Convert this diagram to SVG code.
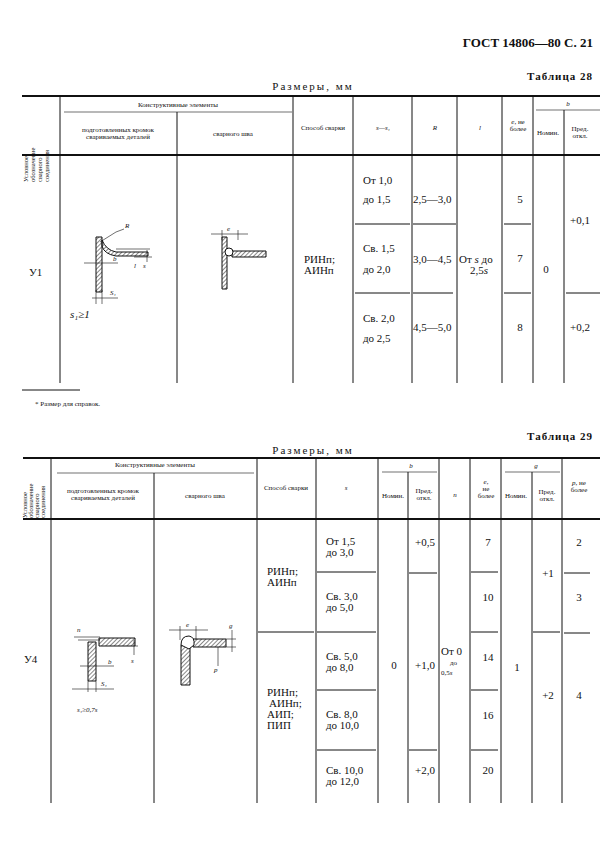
<svg xmlns="http://www.w3.org/2000/svg" width="606" height="846" viewBox="0 0 606 846">
<defs>
<pattern id="h" width="3" height="3" patternUnits="userSpaceOnUse" patternTransform="rotate(45)"><line x1="0" y1="0" x2="0" y2="3" stroke="#000" stroke-width="1"/></pattern>
</defs>
<style>
text{font-family:"Liberation Serif",serif;fill:#111}
.t{font-size:11px}
.s{font-size:7px}
.h{font-size:6.5px}
.b{font-size:13px;font-weight:bold}
line,path.l{stroke:#111;stroke-width:1;fill:none}
.thk{stroke-width:1.8}
.th{stroke-width:0.6}
</style>
<rect width="606" height="846" fill="#fff"/>
<text x="593" y="47" class="b" text-anchor="end">ГОСТ 14806—80 С. 21</text>
<text x="593" y="80" class="t" text-anchor="end" font-weight="bold" letter-spacing="1">Таблица 28</text>
<text x="313" y="90" class="t" text-anchor="middle" letter-spacing="2">Размеры, мм</text>
<g id="connectors">
<line class="thk" x1="22" y1="96" x2="600" y2="96"/>
<line class="th" x1="64" y1="112" x2="292" y2="112"/>
<line class="th" x1="536" y1="110" x2="600" y2="110"/>
<line class="thk" x1="22" y1="155" x2="600" y2="155"/>
<line x1="60" y1="96" x2="60" y2="383"/>
<line x1="177" y1="112" x2="177" y2="383"/>
<line x1="293" y1="96" x2="293" y2="383"/>
<line x1="353" y1="96" x2="353" y2="383"/>
<line x1="412" y1="96" x2="412" y2="383"/>
<line x1="457" y1="96" x2="457" y2="383"/>
<line x1="502" y1="96" x2="502" y2="383"/>
<line x1="533" y1="96" x2="533" y2="383"/>
<line x1="564" y1="110" x2="564" y2="383"/>
<line x1="355" y1="224" x2="410" y2="224"/><line x1="413" y1="224" x2="456" y2="224"/><line x1="504" y1="224" x2="531" y2="224"/>
<line x1="355" y1="293" x2="410" y2="293"/><line x1="413" y1="293" x2="453" y2="293"/><line x1="504" y1="293" x2="531" y2="293"/><line x1="566" y1="293" x2="600" y2="293"/>
<line x1="22" y1="390" x2="80" y2="390"/>
<line class="thk" x1="23" y1="458" x2="600" y2="458"/>
<line class="th" x1="57" y1="473" x2="254" y2="473"/>
<line class="th" x1="382" y1="472" x2="437" y2="472"/>
<line class="th" x1="505" y1="472" x2="560" y2="472"/>
<line class="thk" x1="23" y1="519" x2="600" y2="519"/>
<line x1="51" y1="458" x2="51" y2="803"/>
<line x1="154" y1="473" x2="154" y2="803"/>
<line x1="257" y1="458" x2="257" y2="803"/>
<line x1="316" y1="458" x2="316" y2="803"/>
<line x1="378" y1="458" x2="378" y2="803"/>
<line x1="408" y1="472" x2="408" y2="803"/>
<line x1="439" y1="458" x2="439" y2="803"/>
<line x1="470" y1="458" x2="470" y2="803"/>
<line x1="501" y1="458" x2="501" y2="803"/>
<line x1="532" y1="472" x2="532" y2="803"/>
<line x1="562" y1="458" x2="562" y2="803"/>
<line x1="317" y1="572" x2="376" y2="572"/><line x1="317" y1="632" x2="376" y2="632"/><line x1="317" y1="690" x2="376" y2="690"/><line x1="317" y1="750" x2="376" y2="750"/>
<line x1="409" y1="573" x2="437" y2="573"/><line x1="409" y1="750" x2="437" y2="750"/>
<line x1="471" y1="572" x2="498" y2="572"/><line x1="471" y1="632" x2="498" y2="632"/><line x1="471" y1="690" x2="498" y2="690"/><line x1="471" y1="750" x2="498" y2="750"/>
<line x1="533" y1="632" x2="560" y2="632"/>
<line x1="564" y1="573" x2="590" y2="573"/><line x1="564" y1="633" x2="590" y2="633"/>
<line x1="258" y1="632" x2="314" y2="632"/>
</g>
<g id="header1">
<text transform="translate(28,182) rotate(-90)" class="h">Условное</text>
<text transform="translate(35,182) rotate(-90)" class="h">обозначение</text>
<text transform="translate(42,182) rotate(-90)" class="h">сварного</text>
<text transform="translate(49,182) rotate(-90)" class="h">соединения</text>
<text x="178" y="107" class="s" text-anchor="middle">Конструктивные элементы</text>
<text x="118" y="132" class="s" text-anchor="middle">подготовленных кромок</text>
<text x="118" y="139" class="s" text-anchor="middle">свариваемых деталей</text>
<text x="233" y="136" class="s" text-anchor="middle">сварного шва</text>
<text x="323" y="130" class="s" text-anchor="middle">Способ сварки</text>
<text x="383" y="130" class="s" text-anchor="middle" font-style="italic">s—s₁</text>
<text x="435" y="130" class="s" text-anchor="middle" font-style="italic">R</text>
<text x="480" y="130" class="s" text-anchor="middle" font-style="italic">l</text>
<text x="518" y="124" class="s" text-anchor="middle"><tspan font-style="italic">e</tspan>, не</text>
<text x="518" y="131" class="s" text-anchor="middle">более</text>
<text x="548" y="135" class="s" text-anchor="middle">Номин.</text>
<text x="580" y="131" class="s" text-anchor="middle">Пред.</text>
<text x="580" y="138" class="s" text-anchor="middle">откл.</text>
<text x="568" y="106" class="s" text-anchor="middle" font-style="italic">b</text>
</g>
<g id="row1">
<text x="29" y="276" class="t">У1</text>
<text x="70" y="318" class="t" font-style="italic">s₁≥1</text>
<text x="363" y="184" class="t">От 1,0</text><text x="363" y="203" class="t">до 1,5</text>
<text x="413" y="203" class="t">2,5—3,0</text>
<text x="520" y="203" class="t" text-anchor="middle">5</text>
<text x="580" y="224" class="t" text-anchor="middle">+0,1</text>
<text x="363" y="252" class="t">Св. 1,5</text><text x="363" y="273" class="t">до 2,0</text>
<text x="413" y="263" class="t">3,0—4,5</text>
<text x="459" y="263" class="t">От <tspan font-style="italic">s</tspan> до</text>
<text x="470" y="274" class="t">2,5<tspan font-style="italic">s</tspan></text>
<text x="520" y="262" class="t" text-anchor="middle">7</text>
<text x="546" y="273" class="t" text-anchor="middle">0</text>
<text x="363" y="322" class="t">Св. 2,0</text><text x="363" y="342" class="t">до 2,5</text>
<text x="413" y="331" class="t">4,5—5,0</text>
<text x="520" y="331" class="t" text-anchor="middle">8</text>
<text x="580" y="331" class="t" text-anchor="middle">+0,2</text>
<text x="304" y="263" class="t">РИНп;</text><text x="304" y="274" class="t">АИНп</text>
</g>
<g id="drawing1">
<path d="M96,237 h6 v55 h-6 z" fill="url(#h)" stroke="#111"/>
<path d="M102,240 q4,10 14,12 h32 v4 h-32 q-12,-2 -14,-10 z" fill="url(#h)" stroke="#111"/>
<line class="th" x1="100" y1="242" x2="116" y2="232"/><line class="th" x1="116" y1="232" x2="124" y2="229"/>
<text x="125" y="228" class="s" font-style="italic">R</text>
<line class="th" x1="116" y1="249" x2="150" y2="249"/><line class="th" x1="134" y1="257" x2="152" y2="257"/>
<line class="th" x1="147" y1="250" x2="147" y2="262"/>
<text x="134" y="268" class="s" font-style="italic">l</text>
<text x="143" y="268" class="s" font-style="italic">s</text>
<line class="th" x1="84" y1="263" x2="118" y2="263"/><text x="113" y="261" class="s" font-style="italic">b</text>
<line class="th" x1="92" y1="298" x2="118" y2="298"/><line class="th" x1="96" y1="290" x2="96" y2="304"/><line class="th" x1="102" y1="290" x2="102" y2="304"/>
<text x="110" y="295" class="s" font-style="italic">S₁</text>
<path d="M222,237 h5 v52 h-5 z" fill="url(#h)" stroke="#111"/>
<path d="M232,251 h34 v6 h-34 z" fill="url(#h)" stroke="#111"/>
<circle cx="229" cy="252" r="4" fill="#fff" stroke="#111"/>
<line class="th" x1="211" y1="234" x2="248" y2="234"/><line class="th" x1="222" y1="230" x2="222" y2="240"/><line class="th" x1="238" y1="230" x2="238" y2="240"/>
<text x="227" y="231" class="s" font-style="italic">e</text>
</g>
<text x="35" y="406" class="s" font-size="8">*  Размер для справок.</text>
<text x="593" y="440" class="t" text-anchor="end" font-weight="bold" letter-spacing="1">Таблица 29</text>
<text x="313" y="454" class="t" text-anchor="middle" letter-spacing="2">Размеры, мм</text>
<g id="header2">
<text transform="translate(27,518) rotate(-90)" class="h">Условное</text>
<text transform="translate(33,518) rotate(-90)" class="h">обозначение</text>
<text transform="translate(39,518) rotate(-90)" class="h">сварного</text>
<text transform="translate(45,518) rotate(-90)" class="h">соединения</text>
<text x="155" y="467" class="s" text-anchor="middle">Конструктивные элементы</text>
<text x="103" y="493" class="s" text-anchor="middle">подготовленных кромок</text>
<text x="103" y="500" class="s" text-anchor="middle">свариваемых деталей</text>
<text x="205" y="498" class="s" text-anchor="middle">сварного шва</text>
<text x="286" y="490" class="s" text-anchor="middle">Способ сварки</text>
<text x="346" y="490" class="s" text-anchor="middle" font-style="italic">s</text>
<text x="411" y="468" class="s" text-anchor="middle" font-style="italic">b</text>
<text x="393" y="498" class="s" text-anchor="middle">Номин.</text>
<text x="424" y="493" class="s" text-anchor="middle">Пред.</text><text x="424" y="500" class="s" text-anchor="middle">откл.</text>
<text x="455" y="497" class="s" text-anchor="middle" font-style="italic">n</text>
<text x="486" y="484" class="s" text-anchor="middle" font-style="italic">e,</text>
<text x="486" y="491" class="s" text-anchor="middle">не</text>
<text x="486" y="498" class="s" text-anchor="middle">более</text>
<text x="536" y="468" class="s" text-anchor="middle" font-style="italic">g</text>
<text x="516" y="498" class="s" text-anchor="middle">Номин.</text>
<text x="547" y="494" class="s" text-anchor="middle">Пред.</text><text x="547" y="501" class="s" text-anchor="middle">откл.</text>
<text x="579" y="485" class="s" text-anchor="middle"><tspan font-style="italic">p</tspan>, не</text>
<text x="579" y="492" class="s" text-anchor="middle">более</text>
</g>
<g id="row2">
<text x="24" y="663" class="t">У4</text>
<text x="77" y="712" class="s" font-size="9" font-style="italic">s₁≥0,7s</text>
<text x="326" y="545" class="t">От 1,5</text><text x="326" y="556" class="t">до 3,0</text>
<text x="415" y="546" class="t">+0,5</text>
<text x="488" y="546" class="t" text-anchor="middle">7</text>
<text x="579" y="546" class="t" text-anchor="middle">2</text>
<text x="267" y="575" class="t">РИНп;</text><text x="267" y="586" class="t">АИНп</text>
<text x="548" y="577" class="t" text-anchor="middle">+1</text>
<text x="326" y="600" class="t">Св. 3,0</text><text x="326" y="611" class="t">до 5,0</text>
<text x="488" y="601" class="t" text-anchor="middle">10</text>
<text x="579" y="601" class="t" text-anchor="middle">3</text>
<text x="326" y="660" class="t">Св. 5,0</text><text x="326" y="671" class="t">до 8,0</text>
<text x="394" y="669" class="t" text-anchor="middle">0</text>
<text x="415" y="669" class="t">+1,0</text>
<text x="441" y="655" class="t">От 0</text>
<text x="450" y="665" class="s" font-size="9">до</text>
<text x="441" y="675" class="s" font-size="9">0,5<tspan font-style="italic">s</tspan></text>
<text x="488" y="661" class="t" text-anchor="middle">14</text>
<text x="517" y="671" class="t" text-anchor="middle">1</text>
<text x="267" y="696" class="t">РИНп;</text><text x="269" y="707" class="t">АИНп;</text>
<text x="267" y="718" class="t">АИП;</text><text x="267" y="729" class="t">ПИП</text>
<text x="548" y="699" class="t" text-anchor="middle">+2</text>
<text x="579" y="699" class="t" text-anchor="middle">4</text>
<text x="326" y="718" class="t">Св. 8,0</text><text x="326" y="729" class="t">до 10,0</text>
<text x="488" y="719" class="t" text-anchor="middle">16</text>
<text x="326" y="774" class="t">Св. 10,0</text><text x="326" y="785" class="t">до 12,0</text>
<text x="415" y="774" class="t">+2,0</text>
<text x="488" y="774" class="t" text-anchor="middle">20</text>
</g>
<g id="drawing2">
<path d="M88,642 h8 v39 h-8 z" fill="url(#h)" stroke="#111"/>
<path d="M99,638 h36 v8 h-36 z" fill="url(#h)" stroke="#111"/>
<line class="th" x1="74" y1="637" x2="100" y2="637"/><line class="th" x1="78" y1="640" x2="100" y2="640"/>
<text x="77" y="632" class="s" font-style="italic">n</text>
<line class="th" x1="135" y1="646" x2="138" y2="646"/><line class="th" x1="134" y1="640" x2="134" y2="655"/>
<text x="131" y="663" class="s" font-style="italic">s</text>
<line class="th" x1="80" y1="666" x2="114" y2="666"/><text x="108" y="664" class="s" font-style="italic">b</text>
<line class="th" x1="72" y1="689" x2="114" y2="689"/><line class="th" x1="88" y1="681" x2="88" y2="692"/><line class="th" x1="96" y1="681" x2="96" y2="692"/>
<text x="101" y="686" class="s" font-style="italic">S₁</text>
<path d="M181,645 h9 v40 h-9 z" fill="url(#h)" stroke="#111"/>
<path d="M193,639 h33 v8 h-33 z" fill="url(#h)" stroke="#111"/>
<path d="M181,645 q0,-9 8,-9 q6,1 5,9 l-5,4 z" fill="#fff" stroke="#111"/>
<line class="th" x1="169" y1="630" x2="208" y2="630"/><line class="th" x1="180" y1="626" x2="180" y2="640"/><line class="th" x1="196" y1="626" x2="196" y2="640"/>
<text x="186" y="627" class="s" font-style="italic">e</text>
<line class="th" x1="226" y1="639" x2="236" y2="639"/><line class="th" x1="226" y1="647" x2="236" y2="647"/><line class="th" x1="232" y1="630" x2="232" y2="652"/>
<text x="229" y="628" class="s" font-style="italic">g</text>
<line class="th" x1="218" y1="647" x2="218" y2="666"/>
<text x="214" y="672" class="s" font-style="italic">p</text>
</g>
</svg>
